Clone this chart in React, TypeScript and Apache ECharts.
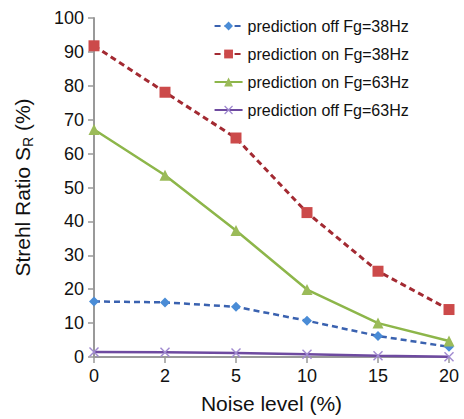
import React, { useEffect, useRef } from "react";
import * as echarts from "echarts";

const categories = ["0", "2", "5", "10", "15", "20"];
const offFg38 = [16.4, 16.1, 14.8, 10.7, 6.2, 3.0];
const onFg38 = [91.8, 78.1, 64.6, 42.6, 25.3, 14.0];
const onFg63 = [67.1, 53.6, 37.3, 19.9, 10.0, 4.7];
const offFg63 = [1.5, 1.4, 1.2, 0.8, 0.4, 0.1];

const seriesNames = [
  "prediction off Fg=38Hz",
  "prediction on Fg=38Hz",
  "prediction on Fg=63Hz",
  "prediction off Fg=63Hz",
];

const FONT = "Liberation Sans, Arial, Helvetica, sans-serif";
const crossPath =
  "path://M0,1L1,0L5,4L9,0L10,1L6,5L10,9L9,10L5,6L1,10L0,9L4,5Z";

export default function App() {
  const ref = useRef<HTMLDivElement>(null);
  useEffect(() => {
    document.body.style.margin = "0";
    if (!ref.current) return;
    const chart = echarts.init(ref.current, null, { renderer: "svg" });
    chart.setOption({
      animation: false,
      textStyle: { fontFamily: FONT },
      grid: { left: 94, right: 15, top: 18, bottom: 56 },
      legend: {
        orient: "vertical",
        right: 50,
        top: 13,
        itemGap: 12,
        itemWidth: 28,
        itemHeight: 11,
        textStyle: { fontSize: 16, color: "#111", fontFamily: FONT },
        data: seriesNames,
      },
      xAxis: {
        type: "category",
        data: categories,
        boundaryGap: false,
        name: "Noise level (%)",
        nameLocation: "middle",
        nameGap: 36,
        nameTextStyle: { fontSize: 21, color: "#111", fontFamily: FONT },
        axisLine: { lineStyle: { color: "#999", width: 2 } },
        axisTick: { alignWithLabel: true, length: 6, lineStyle: { color: "#999", width: 1.5 } },
        axisLabel: { fontSize: 18, color: "#111", margin: 10, fontFamily: FONT },
        splitLine: { show: false },
      },
      yAxis: {
        type: "value",
        min: 0,
        max: 100,
        interval: 10,
        name: "{a|Strehl Ratio S}{b|R}{a| (%)}",
        nameLocation: "middle",
        nameGap: 59,
        nameRotate: 90,
        nameTextStyle: {
          rich: {
            a: { fontSize: 21, color: "#111", fontFamily: FONT },
            b: { fontSize: 14, color: "#111", fontFamily: FONT, padding: [12, 0, 0, 0] },
          },
        },
        axisLine: { show: true, lineStyle: { color: "#999", width: 2 } },
        axisTick: { show: true, length: 6, lineStyle: { color: "#999", width: 1.5 } },
        axisLabel: { fontSize: 18, color: "#111", margin: 10, fontFamily: FONT },
        splitLine: { show: false },
      },
      series: [
        {
          name: seriesNames[0],
          type: "line",
          data: offFg38,
          symbol: "diamond",
          symbolSize: 10,
          itemStyle: { color: "#4a8cd6" },
          lineStyle: { color: "#3a62b0", width: 2.5, type: [6, 4] },
        },
        {
          name: seriesNames[1],
          type: "line",
          data: onFg38,
          symbol: "rect",
          symbolSize: 11,
          itemStyle: { color: "#cc4a4a" },
          lineStyle: { color: "#a32a32", width: 3, type: [6, 4] },
        },
        {
          name: seriesNames[2],
          type: "line",
          data: onFg63,
          symbol: "triangle",
          symbolSize: 11,
          itemStyle: { color: "#9bbb59" },
          lineStyle: { color: "#8db64a", width: 2.5 },
        },
        {
          name: seriesNames[3],
          type: "line",
          data: offFg63,
          symbol: crossPath,
          symbolSize: 10,
          itemStyle: { color: "#a08ad0" },
          lineStyle: { color: "#6e4aa0", width: 2.5 },
        },
      ],
    });
    return () => chart.dispose();
  }, []);
  return <div ref={ref} style={{ width: 464, height: 419 }} />;
}
